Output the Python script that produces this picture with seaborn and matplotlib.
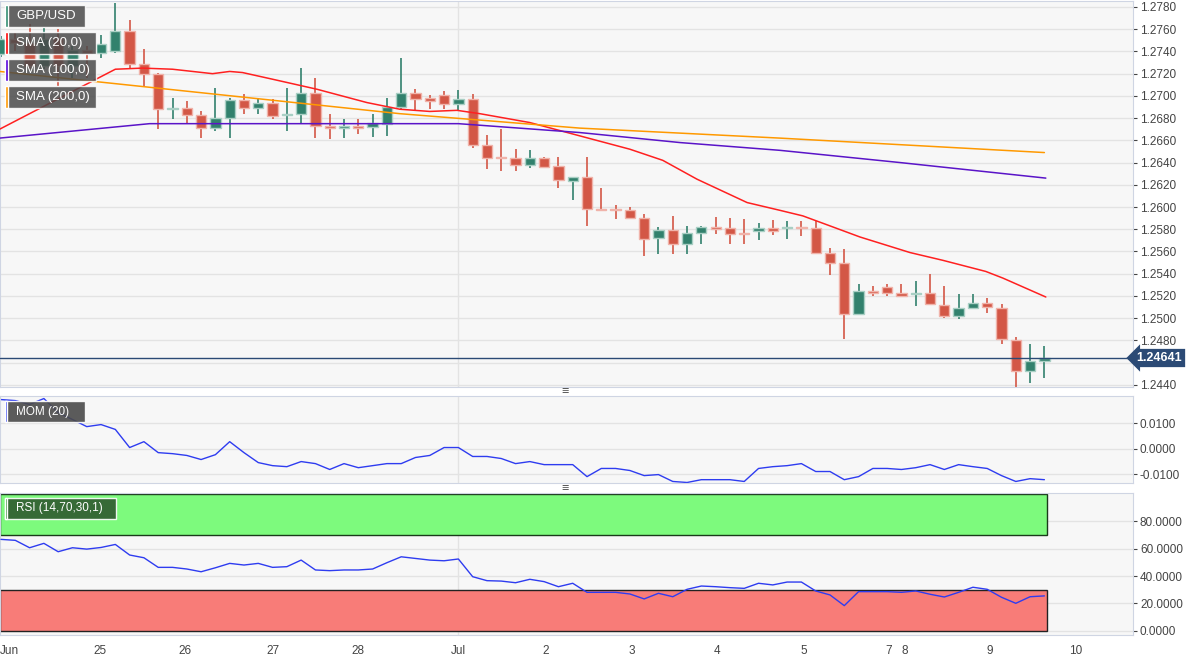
import numpy as np
import pandas as pd
import matplotlib.pyplot as plt
import seaborn as sns
from matplotlib.patches import Rectangle

# 4h candles, GBP/USD
opens = [1.2738, 1.2751, 1.2748, 1.2727, 1.2752, 1.2727, 1.2741, 1.2739, 1.2740, 1.2758,
         1.2729, 1.2720, 1.2688, 1.2689, 1.2683, 1.2671, 1.2680, 1.2696, 1.2689, 1.2694,
         1.2683, 1.2684, 1.2703, 1.2673, 1.2671, 1.2673, 1.2672, 1.2675, 1.2690, 1.2703,
         1.2698, 1.2701, 1.2693, 1.2697, 1.2656, 1.2645, 1.2644, 1.2638, 1.2644, 1.2637,
         1.2623, 1.2627, 1.2598, 1.2598, 1.2597, 1.2590, 1.2572, 1.2579, 1.2567, 1.2577,
         1.2582, 1.2581, 1.2577, 1.2578, 1.2581, 1.2581, 1.2582, 1.2581, 1.2559, 1.2550,
         1.2504, 1.2524, 1.2528, 1.2523, 1.2522, 1.2523, 1.2512, 1.2502, 1.2509, 1.2514,
         1.2509, 1.2480, 1.2452, 1.2461]
highs = [1.2754, 1.2757, 1.2765, 1.2761, 1.2760, 1.2745, 1.2745, 1.2755, 1.2784, 1.2768,
         1.2742, 1.2721, 1.2698, 1.2695, 1.2686, 1.2707, 1.2698, 1.2702, 1.2698, 1.2697,
         1.2707, 1.2725, 1.2716, 1.2684, 1.2679, 1.2679, 1.2684, 1.2698, 1.2734, 1.2706,
         1.2701, 1.2704, 1.2705, 1.2702, 1.2665, 1.2670, 1.2652, 1.2651, 1.2645, 1.2645,
         1.2627, 1.2645, 1.2617, 1.2602, 1.2600, 1.2594, 1.2582, 1.2592, 1.2583, 1.2583,
         1.2591, 1.2590, 1.2589, 1.2586, 1.2588, 1.2587, 1.2587, 1.2587, 1.2563, 1.2562,
         1.2531, 1.2529, 1.2531, 1.2531, 1.2533, 1.2540, 1.2529, 1.2522, 1.2522, 1.2518,
         1.2513, 1.2483, 1.2477, 1.2475]
lows = [1.2735, 1.2740, 1.2724, 1.2724, 1.2709, 1.2716, 1.2716, 1.2734, 1.2739, 1.2724,
        1.2709, 1.2670, 1.2679, 1.2675, 1.2662, 1.2668, 1.2662, 1.2684, 1.2684, 1.2679,
        1.2668, 1.2675, 1.2662, 1.2661, 1.2662, 1.2666, 1.2663, 1.2664, 1.2687, 1.2687,
        1.2688, 1.2688, 1.2687, 1.2653, 1.2634, 1.2632, 1.2632, 1.2635, 1.2635, 1.2617,
        1.2606, 1.2583, 1.2596, 1.2589, 1.2590, 1.2556, 1.2558, 1.2558, 1.2558, 1.2567,
        1.2576, 1.2567, 1.2567, 1.2570, 1.2575, 1.2571, 1.2574, 1.2558, 1.2539, 1.2481,
        1.2503, 1.2520, 1.2520, 1.2519, 1.2511, 1.2512, 1.2500, 1.2499, 1.2508, 1.2505,
        1.2477, 1.2438, 1.2442, 1.2446]
closes = [1.2751, 1.2748, 1.2727, 1.2751, 1.2727, 1.2741, 1.2739, 1.2747, 1.2758, 1.2729,
          1.2720, 1.2688, 1.2689, 1.2683, 1.2671, 1.2680, 1.2696, 1.2689, 1.2694, 1.2682,
          1.2684, 1.2703, 1.2673, 1.2671, 1.2673, 1.2671, 1.2676, 1.2690, 1.2703, 1.2697,
          1.2695, 1.2693, 1.2697, 1.2656, 1.2644, 1.2644, 1.2638, 1.2644, 1.2636, 1.2624,
          1.2627, 1.2598, 1.2597, 1.2597, 1.2590, 1.2571, 1.2579, 1.2567, 1.2577, 1.2582,
          1.2580, 1.2576, 1.2576, 1.2581, 1.2578, 1.2582, 1.2581, 1.2559, 1.2550, 1.2504,
          1.2524, 1.2523, 1.2523, 1.2520, 1.2523, 1.2513, 1.2502, 1.2509, 1.2514, 1.2510,
          1.2481, 1.2452, 1.2461, 1.24641]

# moving averages (candle index, price)
sma20_idx = [-0.1, 8.0, 9.9, 12.0, 14.8, 16.0, 16.9, 19.0, 22.1, 25.6, 27.9, 30.0, 31.9, 33.5, 37.0,
             40.5, 44.0, 46.3, 48.7, 52.2, 54.5, 56.1, 58.0, 60.1, 63.6, 65.9, 68.9, 70.1, 73.1]
sma20 = [1.2670, 1.2724, 1.2725, 1.2724, 1.2720, 1.2722, 1.2721, 1.2715, 1.2706, 1.2694, 1.2688,
         1.2686, 1.2687, 1.2684, 1.2676, 1.2664, 1.2652, 1.2642, 1.2625, 1.2604, 1.2597, 1.2592,
         1.2583, 1.2573, 1.2559, 1.2552, 1.2542, 1.2536, 1.2519]
sma100_idx = [-0.1, 10.4, 32.0, 40.5, 47.5, 54.5, 62.9, 73.1]
sma100 = [1.2662, 1.2675, 1.2675, 1.2667, 1.2658, 1.2651, 1.2640, 1.2626]
sma200_idx = [-0.1, 27.9, 40.5, 54.5, 73.0]
sma200 = [1.2722, 1.2684, 1.2671, 1.2662, 1.2649]

mom = [0.0192, 0.0188, 0.0173, 0.0196, 0.0141, 0.0114, 0.0086, 0.0094, 0.0075, 0.0004,
       0.0027, -0.0016, -0.0020, -0.0027, -0.0043, -0.0024, 0.0027, -0.0016, -0.0055, -0.0067,
       -0.0071, -0.0051, -0.0059, -0.0082, -0.0059, -0.0075, -0.0067, -0.0059, -0.0059, -0.0035,
       -0.0027, 0.0004, 0.0004, -0.0031, -0.0031, -0.0039, -0.0059, -0.0051, -0.0063, -0.0063,
       -0.0063, -0.0110, -0.0078, -0.0078, -0.0086, -0.0106, -0.0102, -0.0129, -0.0133, -0.0122,
       -0.0122, -0.0122, -0.0129, -0.0078, -0.0071, -0.0067, -0.0059, -0.0090, -0.0090, -0.0122,
       -0.0110, -0.0078, -0.0078, -0.0082, -0.0075, -0.0063, -0.0082, -0.0063, -0.0071, -0.0078,
       -0.0106, -0.0129, -0.0118, -0.0122]
rsi = [66.7, 66.0, 60.6, 63.8, 57.7, 60.6, 59.6, 60.8, 63.0, 55.3, 53.3, 46.3, 46.3, 45.1, 43.1,
       46.0, 49.2, 48.0, 49.2, 46.3, 46.8, 51.6, 44.4, 43.9, 44.4, 44.4, 45.1, 49.7, 54.0, 52.8,
       51.6, 51.1, 52.4, 39.5, 36.6, 36.3, 35.1, 37.6, 35.9, 32.2, 34.7, 28.1, 28.1, 28.1, 26.9,
       23.3, 27.4, 24.9, 30.3, 32.7, 32.2, 31.5, 31.0, 34.7, 33.5, 35.6, 35.6, 29.1, 26.2, 18.4,
       28.6, 28.6, 28.6, 28.1, 29.1, 26.7, 24.7, 28.1, 31.8, 30.3, 24.5, 20.1, 24.9, 25.5]

day_labels = ["Jun", "25", "26", "27", "28", "Jul", "2", "3", "4", "5", "7", "8", "9", "10"]
day_pos = [0.6, 6.9, 12.9, 19.0, 25.0, 32.0, 38.1, 44.1, 50.1, 56.2, 62.1, 63.2, 69.2, 75.2]
last_price = 1.24641

sns.set_style("whitegrid")
plt.rcParams["font.family"] = ["Liberation Sans", "DejaVu Sans"]

W, H = 1202, 658
fig = plt.figure(figsize=(W / 100, H / 100), dpi=100)
fig.patch.set_facecolor("white")


def px_axes(top, bottom):
    return fig.add_axes([0, 1 - bottom / H, 1133 / W, (bottom - top) / H])


ax1 = px_axes(1, 387)
ax2 = px_axes(396, 483)
ax3 = px_axes(493, 635)
xlim = (-0.07, 79.2)
bg = "#f7f7f7"
for ax in (ax1, ax2, ax3):
    ax.set_facecolor(bg)
    ax.set_xlim(*xlim)
    ax.grid(True, axis="y", color="#e3e3e3", linewidth=1)
    ax.axvline(32.0, color="#e3e3e3", linewidth=1, zorder=0)
    ax.yaxis.tick_right()
    ax.tick_params(axis="y", labelsize=8.5, colors="#444444", length=3, pad=2, direction="out")
    ax.set_xticks([])
    for s in ax.spines.values():
        s.set_color("#cfd5e3")

# candles
df = pd.DataFrame({"o": opens, "h": highs, "l": lows, "c": closes})
df["i"] = np.arange(len(df))
up = df["c"] >= df["o"]
green, red = "#32816d", "#d35746"
cols = np.where(up, green, red)
edges = np.where(up, "#a9cfc4", "#f0b3aa")
ax1.vlines(df["i"], df["l"], df["h"], colors=cols, linewidth=1.2, zorder=2)
body = (df["c"] - df["o"]).abs().clip(lower=0.00004)
ax1.bar(df["i"], body, bottom=df[["o", "c"]].min(axis=1), width=0.72, color=cols,
        edgecolor=edges, linewidth=1, zorder=3)

sns.lineplot(x=sma20_idx, y=sma20, ax=ax1, color="#ff2020", linewidth=1.1, zorder=4)
sns.lineplot(x=sma200_idx, y=sma200, ax=ax1, color="#ff9900", linewidth=1.1, zorder=4)
sns.lineplot(x=sma100_idx, y=sma100, ax=ax1, color="#5a14c8", linewidth=1.1, zorder=4)
ax1.axhline(last_price, color="#2b4a75", linewidth=1, zorder=5)
ax1.set_ylim(1.2438, 1.27854)
yt = np.arange(1.2440, 1.2781, 0.0020)
ax1.set_yticks(yt)
ax1.set_yticklabels([f"{v:.4f}" for v in yt])
ax1.text(1.003, (last_price - 1.2438) / (1.27854 - 1.2438), f"{last_price:.5f}",
         transform=ax1.transAxes, va="center", ha="left", fontsize=9, fontweight="bold",
         color="white", bbox=dict(boxstyle="larrow,pad=0.25", fc="#2b4a75", ec="none"), zorder=10,
         clip_on=False)

x = np.arange(len(mom))
sns.lineplot(x=x, y=mom, ax=ax2, color="#2e3cf0", linewidth=1)
ax2.set_ylim(-0.0135, 0.0206)
ax2.set_yticks([-0.01, 0.0, 0.01])
ax2.set_yticklabels(["-0.0100", "0.0000", "0.0100"])

ax3.set_ylim(-3.0, 100.5)
ax3.add_patch(Rectangle((xlim[0], 70), 73.2 - xlim[0], 30, fc="#7dfa7d", ec="#1a3a1a", lw=1, zorder=1))
ax3.add_patch(Rectangle((xlim[0], 0), 73.2 - xlim[0], 30, fc="#f87c78", ec="#222222", lw=1, zorder=1))
sns.lineplot(x=np.arange(len(rsi)), y=rsi, ax=ax3, color="#2e3cf0", linewidth=1, zorder=3)
ax3.set_yticks([0, 20, 40, 60, 80])
ax3.set_yticklabels(["0.0000", "20.0000", "40.0000", "60.0000", "80.0000"])
ax3.set_xticks(day_pos)
ax3.set_xticklabels(day_labels)
ax3.tick_params(axis="x", length=3, colors="#444444", labelsize=8.5, pad=4, direction="out")
ax3.grid(False, axis="x")

# legend boxes
boxes = [("GBP/USD", 5, 85, "#2e8b6e"), ("SMA (20,0)", 32, 96, "#ff0000"),
         ("SMA (100,0)", 59, 96, "#5500dd"), ("SMA (200,0)", 86, 96, "#ff9900")]
for lab, top, right, c in boxes:
    fig.patches.append(Rectangle((5 / W, 1 - (top + 22) / H), (right - 5) / W, 22 / H,
                                 transform=fig.transFigure, fc="#4a4a4a", alpha=0.85, zorder=10))
    fig.patches.append(Rectangle((5 / W, 1 - (top + 22) / H), 3 / W, 22 / H,
                                 transform=fig.transFigure, fc=c, zorder=11))
    fig.text(16 / W, 1 - (top + 11) / H, lab, color="white", fontsize=9.5, va="center", zorder=12)
for lab, top, right, fc, c in [("MOM (20)", 401, 85, "#4a4a4a", "#2e3cf0"),
                               ("RSI (14,70,30,1)", 498, 116, "#2f5a2f", "#2e8b2e")]:
    fig.patches.append(Rectangle((5 / W, 1 - (top + 21) / H), (right - 5) / W, 21 / H,
                                 transform=fig.transFigure, fc=fc, alpha=0.9, zorder=10))
    fig.patches.append(Rectangle((5 / W, 1 - (top + 21) / H), 2 / W, 21 / H,
                                 transform=fig.transFigure, fc=c, zorder=11))
    fig.text(16 / W, 1 - (top + 10.5) / H, lab, color="white", fontsize=8.5, va="center", zorder=12)

for yy in (392, 489):
    fig.text(565 / W, 1 - yy / H, "≡", ha="center", va="center", fontsize=9, color="#555555")

fig.savefig("out.png", dpi=100, facecolor="white")
